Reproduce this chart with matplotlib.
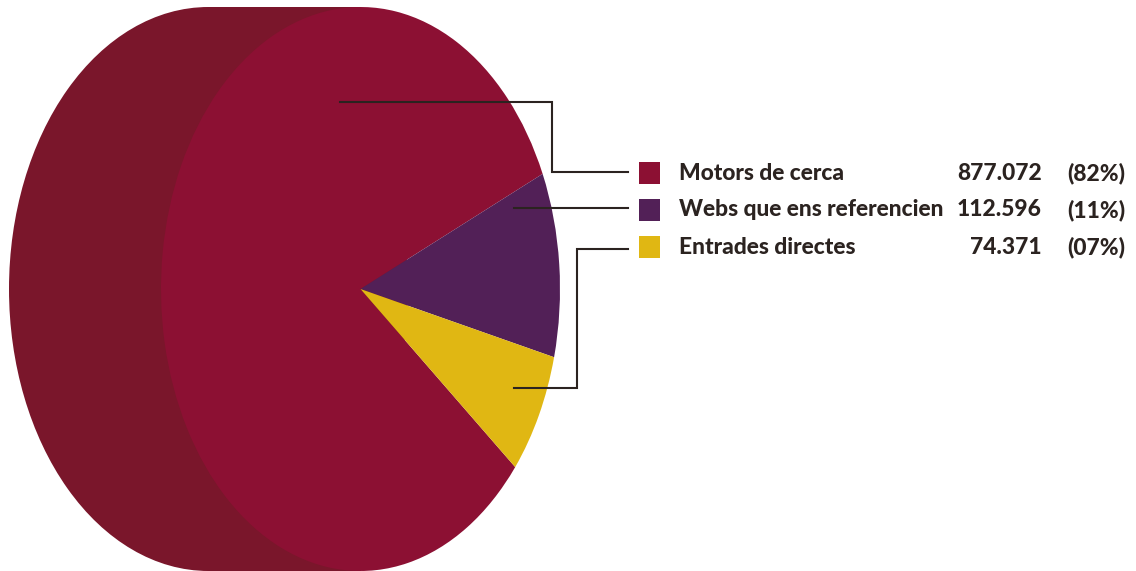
import matplotlib
matplotlib.use("Agg")
import matplotlib.pyplot as plt
from matplotlib.patches import Ellipse, Rectangle, Wedge
from matplotlib.transforms import Affine2D

categories = ["Motors de cerca", "Webs que ens referencien", "Entrades directes"]
visits = ["877.072", "112.596", "74.371"]
percents = ["(82%)", "(11%)", "(07%)"]
values = [877072, 112596, 74371]
colors = ["#8c1033", "#522057", "#e0b713"]
side = "#7a162b"
ink = "#2b2320"

W, H = 1136, 571
fig = plt.figure(figsize=(W / 100, H / 100), dpi=100)
ax = fig.add_axes([0, 0, 1, 1])
ax.set_xlim(0, W)
ax.set_ylim(H, 0)
ax.axis("off")

cx, cy, rx, ry = 360.5, 289, 199.5, 282
# extruded side
ax.add_patch(Ellipse((cx - 152, cy), 2 * rx, 2 * ry, color=side, lw=0, zorder=1))
ax.add_patch(Rectangle((cx - 152, cy - ry), 152, 2 * ry, color=side, lw=0, zorder=1))

# pie: the purple slice starts at its lower edge
total = sum(values)
sweeps = [v / total * 360 for v in values]
start_purple = -14
angles = {
    1: (start_purple, start_purple + sweeps[1]),
    2: (start_purple - sweeps[2], start_purple),
    0: (start_purple + sweeps[1], start_purple - sweeps[2] + 360),
}
tr = Affine2D().scale(rx, -ry).translate(cx, cy) + ax.transData
for i in (0, 1, 2):
    a, b = angles[i]
    ax.add_patch(Wedge((0, 0), 1, a, b, color=colors[i], lw=0, zorder=2, transform=tr))

# leader lines
leaders = [
    ([340, 552, 552, 628], [102, 102, 172, 172]),
    ([514, 628], [208, 208]),
    ([514, 577, 577, 628], [388, 388, 249, 249]),
]
for xs, ys in leaders:
    ax.plot(xs, ys, color=ink, lw=1.5, zorder=3, solid_joinstyle="miter")

# legend
rows = [173, 210, 247]
font = dict(fontsize=16.4, fontweight=900, family="Lato", color=ink, va="center")
for y, name, n, p, c in zip(rows, categories, visits, percents, colors):
    ax.add_patch(Rectangle((639, y - 11), 21, 22, color=c, lw=0, zorder=4))
    ax.text(679, y, name, ha="left", **font)
    ax.text(1042, y, n, ha="right", **font)
    ax.text(1067, y, p, ha="left", **font)

fig.savefig("out.png", dpi=100, facecolor="white")
